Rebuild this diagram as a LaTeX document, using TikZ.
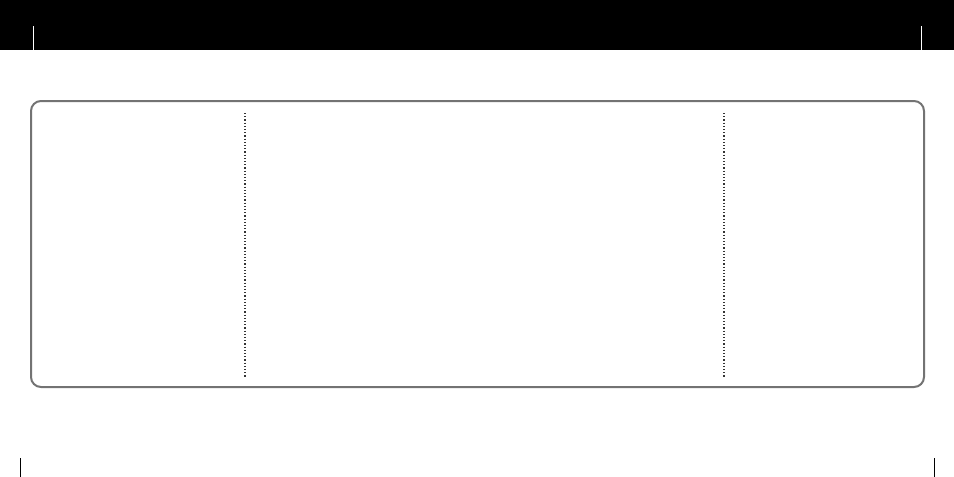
\documentclass[tikz,border=0pt]{standalone}
\begin{document}
\begin{tikzpicture}[x=1pt,y=-1pt,
  frame/.style={draw=black!55,line width=2pt,rounded corners=10pt},
  sep/.style={line width=1.2pt,dotted,black!80},
  tick/.style={line width=1pt}]
\useasboundingbox (0,0) rectangle (954,477);
\fill[black] (0,0) rectangle (954,50);
\draw[tick,white] (33,26) -- (33,50);
\draw[tick,white] (921,26) -- (921,50);
\draw[tick] (20,458) -- (20,477);
\draw[tick] (934,458) -- (934,477);
\draw[frame] (31,101) rectangle (924,387);
\coordinate (a1) at (245,113); \coordinate (a2) at (245,378);
\coordinate (b1) at (724,113); \coordinate (b2) at (724,378);
\draw[sep] (a1) -- (a2);
\draw[sep] (b1) -- (b2);
\end{tikzpicture}
\end{document}
